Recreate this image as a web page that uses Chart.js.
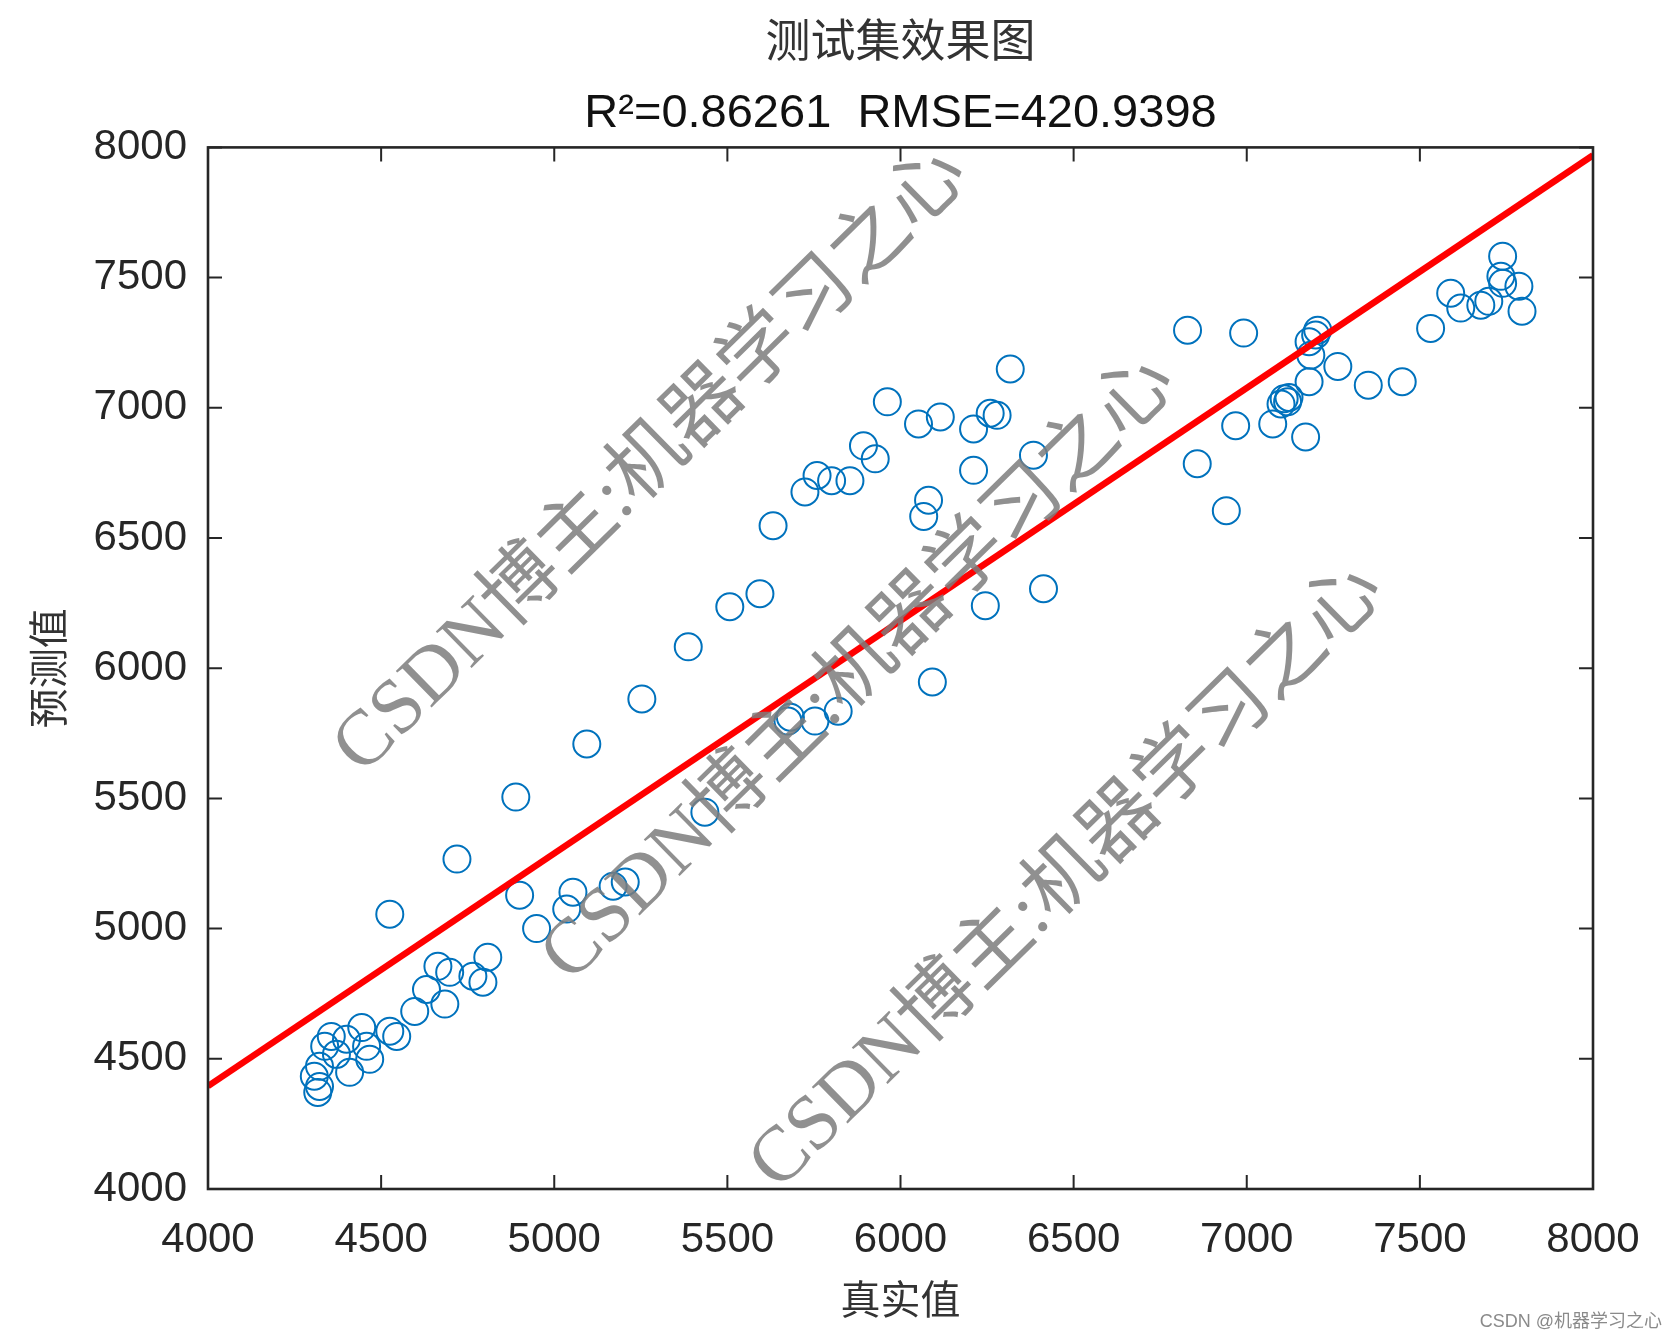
<!DOCTYPE html>
<html>
<head>
<meta charset="utf-8">
<script src="https://cdn.jsdelivr.net/npm/chart.js@4.4.1/dist/chart.umd.min.js"></script>
<style>
  html, body { margin: 0; padding: 0; background: #fff; }
  #wrap { width: 1676px; height: 1340px; }
</style>
</head>
<body>
<div id="wrap"><canvas id="chart" width="1676" height="1340"></canvas></div>
<script>
// donnees (valeur reelle / valeur predite)
const trueVals = [
  4307, 4317, 4322, 4322, 4337, 4356, 4371, 4400, 4409, 4444,
  4458, 4467, 4525, 4545, 4597, 4631, 4664, 4684, 4698, 4765,
  4794, 4808, 4525, 4719, 4889, 4900, 4949, 5054, 5036, 5170,
  5205, 5094, 5253, 5387, 5435, 5507, 5594, 5632, 5675, 5682,
  5753, 5820, 5724, 5759, 5801, 5854, 5893, 5927, 5962, 6052,
  6115, 6211, 6259, 6279, 6317, 6384, 6211, 6081, 6067, 6092,
  6245, 6413, 6829, 6991, 7199, 7205, 7180, 7185, 7263, 7180,
  7108, 7118, 7099, 7122, 7075, 6968, 7170, 7351, 7449, 6857,
  6941, 7531, 7589, 7618, 7676, 7699, 7739, 7734, 7739, 7786,
  7795
];
const predVals = [
  4433, 4371, 4394, 4471, 4548, 4586, 4517, 4575, 4448, 4620,
  4548, 4498, 4606, 4586, 4682, 4766, 4855, 4710, 4832, 4817,
  4794, 4890, 5055, 5267, 5505, 5128, 5000, 5140, 5075, 5163,
  5179, 5709, 5882, 6082, 5447, 6236, 6286, 6547, 5797, 5812,
  5797, 5835, 6677, 6740, 6720, 6720, 6854, 6804, 7023, 6938,
  6965, 6919, 6979, 6971, 7149, 6818, 6760, 6645, 6583, 5947,
  6240, 6305, 7298, 7287, 7280, 7298, 7254, 7202, 7159, 7100,
  7035, 7023, 7015, 7040, 6938, 6931, 6888, 7087, 7100, 6785,
  6605, 7305, 7440, 7383, 7394, 7409, 7582, 7505, 7478, 7467,
  7371
];
// droite d'ajustement (extremites)
const fitX = [4000, 8000];
const fitY = [4395, 7970];
const axisTicks = [4000, 4500, 5000, 5500, 6000, 6500, 7000, 7500, 8000];

const titleText = '测试集效果图';
const subtitleText = 'R²=0.86261  RMSE=420.9398';
const xLabel = '真实值';
const yLabel = '预测值';
const watermark = 'CSDN博主:机器学习之心';
const footText = 'CSDN @机器学习之心';

const points = trueVals.map((v, i) => ({ x: v, y: predVals[i] }));
const fitLine = fitX.map((v, i) => ({ x: v, y: fitY[i] }));

// cadre + ticks vers l'interieur (style matlab)
const boxPlugin = {
  id: 'boxTicks',
  afterDatasetsDraw(chart) {
    const { ctx, chartArea: a, scales } = chart;
    const len = 14;
    ctx.save();
    ctx.strokeStyle = '#262626';
    ctx.lineWidth = 2;
    axisTicks.forEach(t => {
      const px = scales.x.getPixelForValue(t);
      const py = scales.y.getPixelForValue(t);
      ctx.beginPath();
      ctx.moveTo(px, a.bottom); ctx.lineTo(px, a.bottom - len);
      ctx.moveTo(px, a.top); ctx.lineTo(px, a.top + len);
      ctx.moveTo(a.left, py); ctx.lineTo(a.left + len, py);
      ctx.moveTo(a.right, py); ctx.lineTo(a.right - len, py);
      ctx.stroke();
    });
    ctx.lineWidth = 2.6;
    ctx.strokeRect(a.left, a.top, a.right - a.left, a.bottom - a.top);
    ctx.restore();
  }
};

const watermarkPlugin = {
  id: 'watermark',
  afterDraw(chart) {
    const { ctx } = chart;
    ctx.save();
    ctx.fillStyle = 'rgba(125,125,125,0.85)';
    ctx.font = '78px "Liberation Serif", "Noto Sans CJK SC", serif';
    ctx.textAlign = 'center';
    ctx.textBaseline = 'middle';
    [[652, 462], [860, 670], [1068, 878]].forEach(c => {
      ctx.save();
      ctx.translate(c[0], c[1]);
      ctx.rotate(-44.5 * Math.PI / 180);
      ctx.fillText(watermark, 0, 0);
      ctx.restore();
    });
    ctx.fillStyle = '#8a8a8a';
    ctx.font = '18px "Liberation Sans", "Noto Sans CJK SC", sans-serif';
    ctx.textAlign = 'right';
    ctx.fillText(footText, 1662, 1322);
    ctx.restore();
  }
};

const tickFont = { family: '"Liberation Sans", Arial, sans-serif', size: 42 };
const plainNum = v => String(v);

const ctx = document.getElementById('chart').getContext('2d');
new Chart(ctx, {
  type: 'scatter',
  data: {
    datasets: [
      { type: 'line', data: fitLine, borderColor: '#ff0000', borderWidth: 6.5, pointRadius: 0, fill: false, order: 0 },
      { data: points, borderColor: '#0072BD', backgroundColor: 'rgba(0,0,0,0)', borderWidth: 2, pointRadius: 13.5, order: 1 }
    ]
  },
  options: {
    responsive: false,
    animation: false,
    layout: { padding: { left: 0, right: 83, top: 0, bottom: 0 } },
    plugins: {
      legend: { display: false },
      tooltip: { enabled: false },
      title: {
        display: true, fullSize: false, text: titleText, color: '#333',
        font: { family: '"Noto Sans CJK SC", sans-serif', size: 45, weight: 'normal' },
        padding: { top: 13, bottom: 1 }
      },
      subtitle: {
        display: true, fullSize: false, text: subtitleText, color: '#111',
        font: { family: '"Liberation Sans", Arial, sans-serif', size: 47 },
        padding: { top: 18, bottom: 5 }
      }
    },
    scales: {
      x: {
        type: 'linear', min: 4000, max: 8000,
        afterBuildTicks: s => { s.ticks = axisTicks.map(v => ({ value: v })); },
        afterFit: s => { s.height = 151; },
        grid: { display: false, drawTicks: false },
        border: { display: false },
        ticks: { color: '#262626', padding: 26, font: tickFont, callback: plainNum },
        title: { display: true, text: xLabel, color: '#333', padding: { top: 0, bottom: 17 },
          font: { family: '"Noto Sans CJK SC", sans-serif', size: 40 } }
      },
      y: {
        type: 'linear', min: 4000, max: 8000,
        afterBuildTicks: s => { s.ticks = axisTicks.map(v => ({ value: v })); },
        afterFit: s => { s.width = 208; },
        grid: { display: false, drawTicks: false },
        border: { display: false },
        ticks: { color: '#262626', padding: 21, font: tickFont, callback: plainNum },
        title: { display: true, text: yLabel, color: '#333', padding: { top: 24, bottom: 0 },
          font: { family: '"Noto Sans CJK SC", sans-serif', size: 40 } }
      }
    }
  },
  plugins: [boxPlugin, watermarkPlugin]
});
</script>
</body>
</html>
